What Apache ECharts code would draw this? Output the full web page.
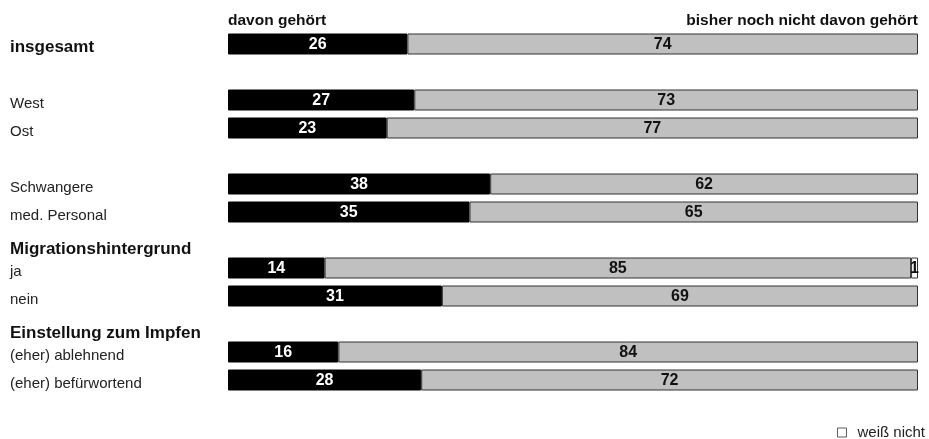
<!DOCTYPE html>
<html>
<head>
<meta charset="utf-8">
<script src="https://cdn.jsdelivr.net/npm/echarts@6/dist/echarts.min.js"></script>
<style>html,body{margin:0;padding:0;background:#fff}#c{width:929px;height:439px}</style>
</head>
<body>
<div id="c"></div>
<script>
var categories = ['insgesamt', ' ', 'West', 'Ost', '  ', 'Schwangere', 'med. Personal',
  'Migrationshintergrund', 'ja', 'nein', 'Einstellung zum Impfen', '(eher) ablehnend', '(eher) befürwortend'];
var boldRows = ['insgesamt'];
var headerRows = ['Migrationshintergrund', 'Einstellung zum Impfen'];
var heard    = [26, null, 27, 23, null, 38, 35, null, 14, 31, null, 16, 28];
var notHeard = [74, null, 73, 77, null, 62, 65, null, 85, 69, null, 84, 72];
var dontKnow = [null, null, null, null, null, null, null, null, 1, null, null, null, null];
var seriesNames = ['davon gehört', 'bisher noch nicht davon gehört', 'weiß nicht'];

var FONT = 'Arial, "Liberation Sans", sans-serif';
var chart = echarts.init(document.getElementById('c'), null, {renderer: 'canvas'});
function lbl(color) {
  return {
    show: true, position: 'inside', offset: [0, 1], color: color, fontFamily: FONT,
    fontWeight: 'bold', fontSize: 16,
    formatter: function (p) { return p.value == null ? '' : p.value; }
  };
}
chart.setOption({
  animation: false,
  backgroundColor: '#fff',
  textStyle: {fontFamily: FONT},
  grid: {left: 228, right: 11, top: 30, height: 364, containLabel: false},
  xAxis: {type: 'value', min: 0, max: 100, show: false},
  yAxis: {
    type: 'category', data: categories, inverse: true,
    axisLine: {show: false}, axisTick: {show: false}, splitLine: {show: false},
    axisLabel: {
      margin: 218, align: 'left', color: '#222', fontFamily: FONT, fontSize: 15,
      formatter: function (v) {
        if (boldRows.indexOf(v) >= 0) return '{b|' + v + '}';
        if (headerRows.indexOf(v) >= 0) return '{h|' + v + '}';
        return '{r|' + v + '}';
      },
      rich: {
        r: {fontSize: 15, color: '#222', fontFamily: FONT, padding: [8, 0, 0, 0]},
        b: {fontWeight: 'bold', fontSize: 17, color: '#111', fontFamily: FONT, padding: [6, 0, 0, 0]},
        h: {fontWeight: 'bold', fontSize: 17, color: '#111', fontFamily: FONT, padding: [18, 0, 0, 0]}
      }
    }
  },
  legend: {
    data: [seriesNames[2]], right: 4, top: 425, padding: 0, itemWidth: 9, itemHeight: 9,
    icon: 'rect',
    itemStyle: {borderWidth: 0.8},
    textStyle: {fontSize: 15, color: '#222', fontFamily: FONT, padding: [0, 0, 0, 6]}
  },
  graphic: [
    {type: 'text', left: 228, top: 13, style: {text: seriesNames[0], font: 'bold 15.5px ' + FONT, fill: '#111'}},
    {type: 'text', right: 11, top: 13, style: {text: seriesNames[1], font: 'bold 15.5px ' + FONT, fill: '#111'}}
  ],
  series: [
    {name: seriesNames[0], type: 'bar', stack: 's', data: heard, barWidth: 21,
      itemStyle: {color: '#000', borderColor: '#000', borderWidth: 1}, label: lbl('#fff')},
    {name: seriesNames[1], type: 'bar', stack: 's', data: notHeard, barWidth: 21,
      itemStyle: {color: '#c0c0c0', borderColor: '#333', borderWidth: 1}, label: lbl('#111')},
    {name: seriesNames[2], type: 'bar', stack: 's', data: dontKnow, barWidth: 21,
      itemStyle: {color: '#fff', borderColor: '#333', borderWidth: 1}, label: lbl('#111')}
  ]
});
</script>
</body>
</html>
